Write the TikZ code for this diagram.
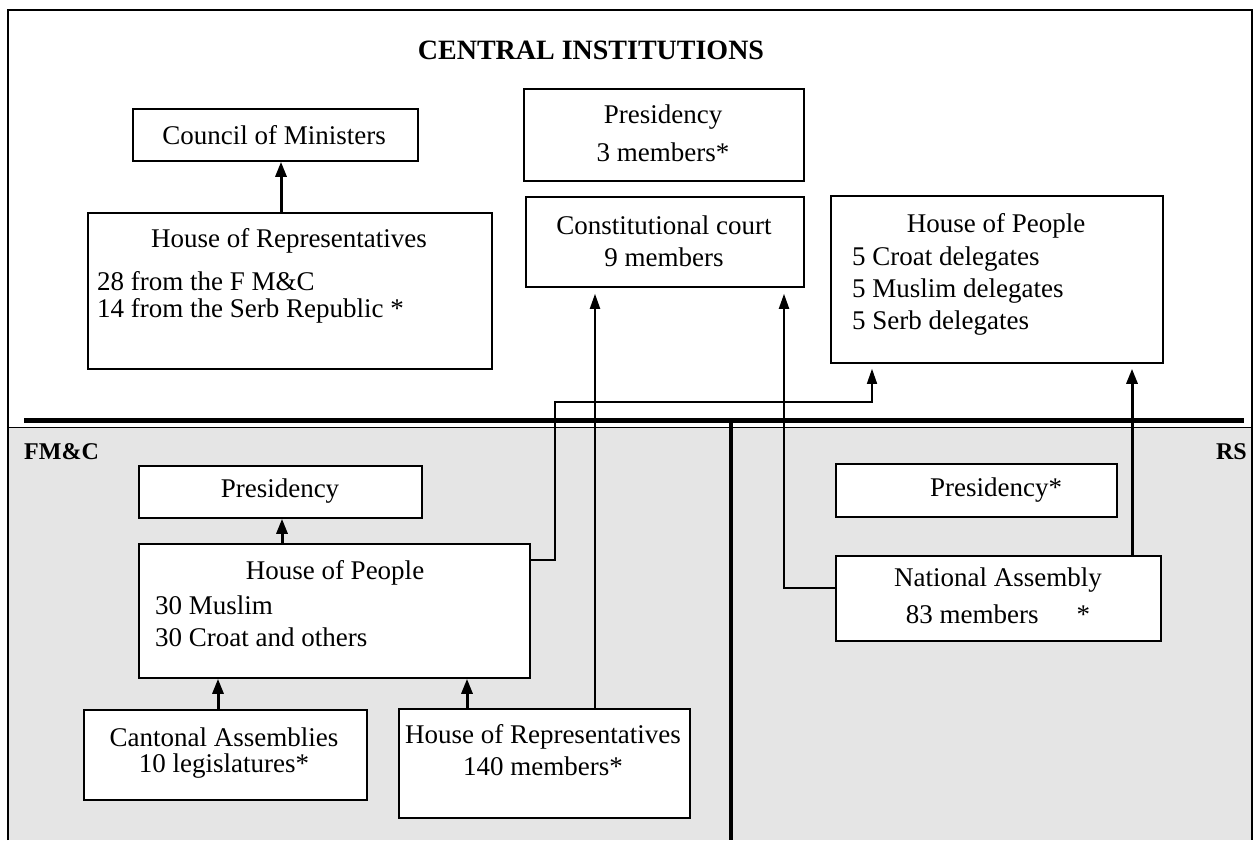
\documentclass[tikz,border=0pt]{standalone}
\usepackage{fontspec}
\setmainfont{Liberation Serif}
\usetikzlibrary{arrows.meta}
\begin{document}
\begin{tikzpicture}[x=1pt,y=-1pt,
  box/.style={draw, line width=1.8pt, fill=white, inner sep=0pt, anchor=north west},
  txt/.style={inner sep=0pt, font=\fontsize{27}{30}\selectfont},
  ttl/.style={inner sep=0pt, font=\fontsize{28}{32}\selectfont\bfseries},
  lbl/.style={inner sep=0pt, font=\fontsize{24}{28}\selectfont\bfseries},
  arr/.style={line width=3pt, -{Triangle[length=15pt,width=11pt]}},
  tarr/.style={line width=2pt, -{Triangle[length=15pt,width=10pt]}},
  thinarr/.style={line width=1.5pt, -{Triangle[length=15pt,width=10pt]}},
  frame/.style={line width=1.5pt},
]
\useasboundingbox (0,0) rectangle (1257,840);
% panels
\fill[white] (8,10) rectangle (1252,427);
\fill[gray!20] (8,427) rectangle (1252,840);
\draw[frame] (8,840) -- (8,10) -- (1252,10) -- (1252,840);
\draw[line width=1pt] (8,427) -- (1252,427);
\draw[line width=5pt] (24,420) -- (1244,420);
\draw[line width=4pt] (731,420) -- (731,840);

% title and region labels
\node[ttl] (title) at (591,50) {CENTRAL INSTITUTIONS};
\node[lbl, anchor=west] (fmc) at (24,452) {FM\&C};
\node[lbl, anchor=east] (rs) at (1247,452) {RS};

% central boxes
\node[box, minimum width=285pt, minimum height=52pt] (com) at (132,108) {};
\node[txt] (comt) at (274,135) {Council of Ministers};

\node[box, minimum width=404pt, minimum height=156pt] (hor) at (87,212) {};
\node[txt] (hort) at (289,241) {House of Representatives};
\node[txt, anchor=west] (hor1) at (97,281) {28 from the F M\&C};
\node[txt, anchor=west] (hor2) at (97,311) {14 from the Serb Republic *};

\node[box, minimum width=280pt, minimum height=92pt] (cpres) at (523,88) {};
\node[txt] (cprest) at (663,117) {Presidency};
\node[txt] (cpres1) at (663,152) {3 members*};

\node[box, minimum width=278pt, minimum height=90pt] (court) at (525,196) {};
\node[txt] (courtt) at (664,225) {Constitutional court};
\node[txt] (court1) at (664,257) {9 members};

\node[box, minimum width=332pt, minimum height=167pt] (chop) at (830,195) {};
\node[txt] (chopt) at (996,226) {House of People};
\node[txt, anchor=west] (chop1) at (852,259) {5 Croat delegates};
\node[txt, anchor=west] (chop2) at (852,291) {5 Muslim delegates};
\node[txt, anchor=west] (chop3) at (852,323) {5 Serb delegates};

% FM&C boxes
\node[box, minimum width=283pt, minimum height=52pt] (fpres) at (138,465) {};
\node[txt] (fprest) at (280,491) {Presidency};

\node[box, minimum width=391pt, minimum height=134pt] (fhop) at (138,543) {};
\node[txt] (fhopt) at (335,573) {House of People};
\node[txt, anchor=west] (fhop1) at (155,605) {30 Muslim};
\node[txt, anchor=west] (fhop2) at (155,637) {30 Croat and others};

\node[box, minimum width=283pt, minimum height=90pt] (cant) at (83,709) {};
\node[txt] (cantt) at (224,737) {Cantonal Assemblies};
\node[txt] (cant1) at (224,766) {10 legislatures*};

\node[box, minimum width=291pt, minimum height=109pt] (fhor) at (398,708) {};
\node[txt] (fhort) at (543,737) {House of Representatives};
\node[txt] (fhor1) at (543,766) {140 members*};

% RS boxes
\node[box, minimum width=281pt, minimum height=53pt] (rpres) at (835,463) {};
\node[txt] (rprest) at (996,490) {Presidency*};

\node[box, minimum width=325pt, minimum height=85pt] (na) at (835,555) {};
\node[txt] (nat) at (998,580) {National Assembly};
\node[txt] (na1) at (998,614) {83 members\hspace{38pt}*};

% connector coordinates
\coordinate (a1) at (281,0);
\coordinate (c1) at (595,0);
\coordinate (j1) at (555,560);
\coordinate (j2) at (872,402);
\coordinate (n1) at (784,588);
\coordinate (n2) at (1132,0);
\coordinate (p1) at (282,0);
\coordinate (k1) at (218,0);
\coordinate (k2) at (467,0);

% connectors
\draw[arr] (hor.north -| a1) -- (com.south -| a1);
\draw[tarr, shorten >=6pt] (fhor.north -| c1) -- (court.south -| c1);
\draw[thinarr, shorten >=5pt] (fhop.east |- j1) -- (j1) -- (j1 |- j2) -- (j2) -- (chop.south -| j2);
\draw[tarr, shorten >=6pt] (na.west |- n1) -- (n1) -- (court.south -| n1);
\draw[arr, shorten >=5pt] (na.north -| n2) -- (chop.south -| n2);
\draw[arr] (fhop.north -| p1) -- (fpres.south -| p1);
\draw[arr] (cant.north -| k1) -- (fhop.south -| k1);
\draw[arr] (fhor.north -| k2) -- (fhop.south -| k2);
\end{tikzpicture}
\end{document}
